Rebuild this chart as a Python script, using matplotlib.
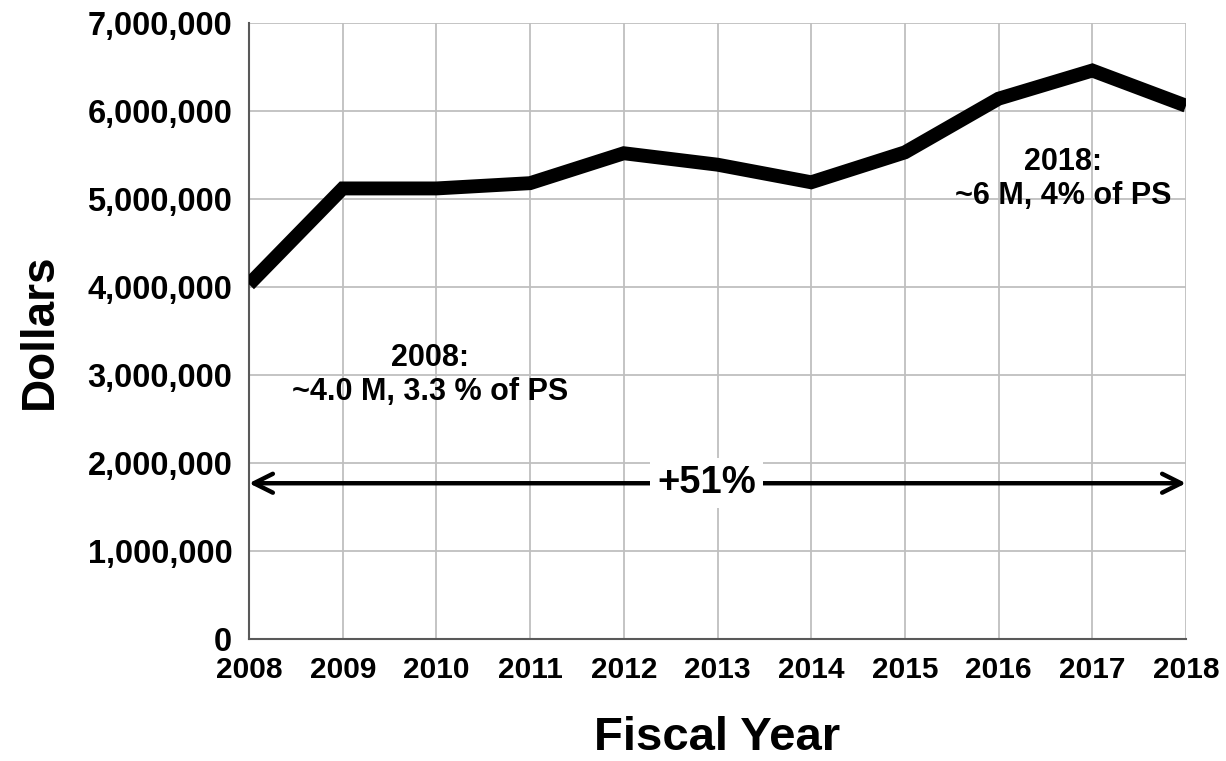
import matplotlib.pyplot as plt
from matplotlib.ticker import FuncFormatter

years = [2008, 2009, 2010, 2011, 2012, 2013, 2014, 2015, 2016, 2017, 2018]
dollars = [4030000, 5120000, 5120000, 5180000, 5520000, 5390000,
           5190000, 5530000, 6140000, 6460000, 6060000]

arrow_level = 1770000
growth_label = "+51%"
note_2008 = "2008:\n~4.0 M, 3.3 % of PS"
note_2018 = "2018:\n~6 M, 4% of PS"

plt.rcParams['font.family'] = ['Liberation Sans', 'DejaVu Sans']
plt.rcParams['font.weight'] = 'bold'

fig = plt.figure(figsize=(12.26, 7.61), dpi=100)
ax = fig.add_axes([249 / 1226, 1 - 639 / 761, 937 / 1226, 616 / 761])

ax.plot(years, dollars, color="black", linewidth=10, solid_joinstyle="miter",
        solid_capstyle="butt", zorder=3)

ax.set_xlim(2008, 2018)
ax.set_ylim(0, 7000000)
ax.set_xticks(years)
ax.set_yticks(range(0, 7000001, 1000000))
ax.yaxis.set_major_formatter(FuncFormatter(lambda v, p: f"{int(v):,}"))
ax.tick_params(axis="y", length=0, labelsize=23.5, pad=12)
ax.tick_params(axis="x", length=0, labelsize=21.5, pad=12)
for lbl in ax.get_xticklabels() + ax.get_yticklabels():
    lbl.set_fontweight("bold")

ax.grid(True, color="#bfbfbf", linewidth=1.3)
ax.set_axisbelow(True)
for side in ["top", "right"]:
    ax.spines[side].set_visible(False)
for side in ["left", "bottom"]:
    ax.spines[side].set_color("#595959")
    ax.spines[side].set_linewidth(1.5)

ax.set_xlabel("Fiscal Year", fontsize=34, fontweight="bold")
ax.set_ylabel("Dollars", fontsize=33, fontweight="bold")
ax.xaxis.set_label_coords(0.5, -0.16)
ax.yaxis.set_label_coords(-0.223, 0.5)
ax.xaxis.label.set_va("center")
ax.yaxis.label.set_va("center")

# double-headed arrow across the whole period
ax.annotate("", xy=(2018, arrow_level), xytext=(2008, arrow_level),
            arrowprops=dict(arrowstyle="<->", color="black", lw=3.2,
                            mutation_scale=34, shrinkA=0, shrinkB=0),
            zorder=4)
ax.text(2012.88, arrow_level, growth_label, fontsize=27.5, fontweight="bold",
        ha="center", va="center", zorder=5,
        bbox=dict(facecolor="white", edgecolor="none", pad=5))

ax.text(2009.93, 3000000, note_2008, fontsize=22, fontweight="bold",
        ha="center", va="center", linespacing=1.18)
ax.text(2016.69, 5230000, note_2018, fontsize=22, fontweight="bold",
        ha="center", va="center", linespacing=1.18)

fig.savefig("out.png", dpi=100)
